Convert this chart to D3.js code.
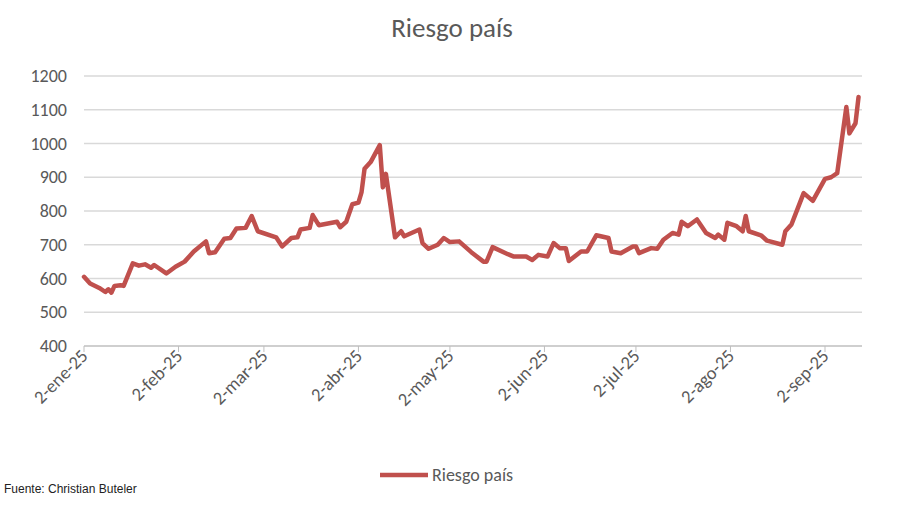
<!DOCTYPE html>
<html><head><meta charset="utf-8">
<script src="https://cdn.jsdelivr.net/npm/d3@7"></script>
<style>body{margin:0;background:#fff}</style></head>
<body><svg id="c" width="900" height="505"></svg>
<script>
const dates = ["01-02","01-04","01-07","01-09","01-10","01-11","01-12","01-14","01-15","01-18","01-20","01-22","01-24","01-25","01-29","02-01","02-04","02-07","02-11","02-12","02-14","02-17","02-19","02-21","02-24","02-26","02-28","03-06","03-08","03-11","03-13","03-14","03-17","03-18","03-20","03-26","03-27","03-29","03-31","04-02","04-03","04-04","04-06","04-09","04-10","04-11","04-14","04-16","04-17","04-22","04-23","04-25","04-28","04-30","05-02","05-05","05-09","05-13","05-14","05-16","05-21","05-23","05-27","05-29","05-31","06-03","06-05","06-07","06-09","06-10","06-14","06-16","06-19","06-23","06-24","06-27","07-01","07-02","07-03","07-07","07-09","07-11","07-14","07-16","07-17","07-19","07-22","07-25","07-28","07-29","07-31","08-01","08-04","08-06","08-07","08-08","08-12","08-14","08-19","08-20","08-22","08-26","08-29","09-02","09-04","09-06","09-09","09-10","09-12","09-13"];
const values = [605,585,572,560,568,558,578,580,578,645,638,642,632,640,615,635,650,680,710,675,678,718,720,748,750,785,740,722,695,720,722,745,750,788,758,768,752,768,820,825,855,925,945,995,870,910,722,740,725,745,705,688,700,720,708,710,678,650,650,693,672,665,665,655,670,665,705,690,690,652,680,680,728,720,680,675,695,695,675,690,688,715,735,730,768,755,775,735,720,730,715,765,755,740,785,740,728,712,700,740,760,853,830,895,900,912,1108,1030,1060,1138];
const yTicks = [400,500,600,700,800,900,1000,1100,1200];
const xTicks = ["01-02","02-02","03-02","04-02","05-02","06-02","07-02","08-02","09-02"];
const monthLabels = ["ene","feb","mar","abr","may","jun","jul","ago","sep"];
const seriesName = "Riesgo país";

const p = s => d3.timeParse("%Y-%m-%d")("2025-"+s);
const data = dates.map((d,i)=>({d:p(d),v:values[i]}));
const svg = d3.select("#c");
const font = "Calibri, Carlito, 'Liberation Sans', Arial, sans-serif";
const x = d3.scaleTime().domain([p(xTicks[0]), p(xTicks[8])]).range([84,825]);
const y = d3.scaleLinear().domain([400,1200]).range([346,76]);

svg.append("text").attr("x",452).attr("y",37).attr("text-anchor","middle")
  .attr("font-family",font).attr("font-size",27).attr("fill","#595959").text(seriesName);

svg.append("g").selectAll("line").data(yTicks.slice(1)).join("line")
  .attr("x1",84).attr("x2",862).attr("y1",d=>y(d)).attr("y2",d=>y(d))
  .attr("stroke","#d9d9d9").attr("stroke-width",1.3);
svg.append("line").attr("x1",84).attr("x2",862).attr("y1",346).attr("y2",346).attr("stroke","#bfbfbf").attr("stroke-width",1.3);

svg.append("g").selectAll("text").data(yTicks).join("text")
  .attr("x",67).attr("y",d=>y(d)+6).attr("text-anchor","end")
  .attr("font-family",font).attr("font-size",18).attr("fill","#595959").text(d=>d);

const xg = svg.append("g");
xTicks.forEach((t,i)=>{
  const px = x(p(t));
  xg.append("line").attr("x1",px).attr("x2",px).attr("y1",346).attr("y2",352).attr("stroke","#bfbfbf");
  xg.append("text").attr("transform",`translate(${px+5},${357}) rotate(-45)`)
    .attr("text-anchor","end").attr("font-family",font).attr("font-size",18.5).attr("fill","#595959")
    .text("2-"+monthLabels[i]+"-25");
});

svg.append("path").datum(data).attr("fill","none").attr("stroke","#c0504d").attr("stroke-width",4.5)
  .attr("stroke-linejoin","round").attr("stroke-linecap","round")
  .attr("d",d3.line().x(d=>x(d.d)).y(d=>y(d.v)));

svg.append("line").attr("x1",380).attr("x2",428).attr("y1",475).attr("y2",475).attr("stroke","#c0504d").attr("stroke-width",4.5);
svg.append("text").attr("x",432).attr("y",481).attr("font-family",font).attr("font-size",18).attr("fill","#595959").text(seriesName);
svg.append("text").attr("x",4).attr("y",493).attr("font-family","'Liberation Sans', Arial, sans-serif").attr("font-size",12).attr("fill","#222").text("Fuente: Christian Buteler");
</script></body></html>
